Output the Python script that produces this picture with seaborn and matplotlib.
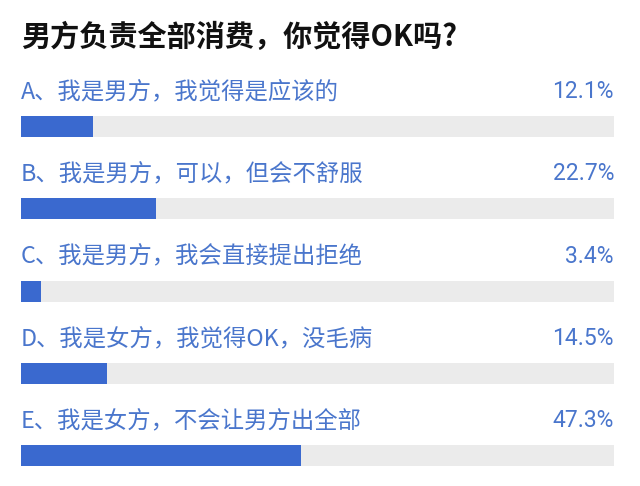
import matplotlib
matplotlib.use("Agg")
import matplotlib.pyplot as plt
import seaborn as sns
import pandas as pd

title = "男方负责全部消费，你觉得OK吗?"
options = ["A、我是男方，我觉得是应该的",
           "B、我是男方，可以，但会不舒服",
           "C、我是男方，我会直接提出拒绝",
           "D、我是女方，我觉得OK，没毛病",
           "E、我是女方，不会让男方出全部"]
percents = [12.1, 22.7, 3.4, 14.5, 47.3]
pct_labels = ["12.1%", "22.7%", "3.4%", "14.5%", "47.3%"]

sns.set_theme(style="white")
plt.rcParams['font.family'] = ['Noto Sans CJK SC', 'DejaVu Sans']

W, H = 640, 486
fig = plt.figure(figsize=(W / 100, H / 100), dpi=100)
fig.patch.set_facecolor("white")

left_px, right_px = 21, 614
ax = fig.add_axes([left_px / W, 0, (right_px - left_px) / W, 1])

row_px = 82.3
first_center_px = 126.5
bar_h = 21 / row_px

df = pd.DataFrame({"option": options, "pct": percents, "full": [100] * len(options)})

sns.barplot(data=df, x="full", y="option", orient="h", color="#ebebeb",
            width=bar_h, saturation=1, ax=ax, order=options)
sns.barplot(data=df, x="pct", y="option", orient="h", color="#3a69cf",
            width=bar_h, saturation=1, ax=ax, order=options)

for p in ax.patches:
    p.set_edgecolor("none")
    p.set_linewidth(0)

top = -first_center_px / row_px
bottom = (H - first_center_px) / row_px
ax.set_ylim(bottom, top)
ax.set_xlim(0, 100)
ax.axis("off")

text_color = "#4a76cc"
for i, (opt, lab) in enumerate(zip(options, pct_labels)):
    ty = i - 35 / row_px
    ax.text(0, ty, opt, ha="left", va="center", fontsize=16.8, color=text_color,
            fontweight="light")
    ax.text(100, ty, lab, ha="right", va="center", fontsize=16.5, color=text_color,
            family=["Roboto", "DejaVu Sans"], fontweight="normal")

fig.text(21 / W, 1 - 37 / H, title, ha="left", va="center", fontsize=21,
         fontweight="bold", color="#111111")

fig.savefig("out.png", dpi=100, facecolor="white")
